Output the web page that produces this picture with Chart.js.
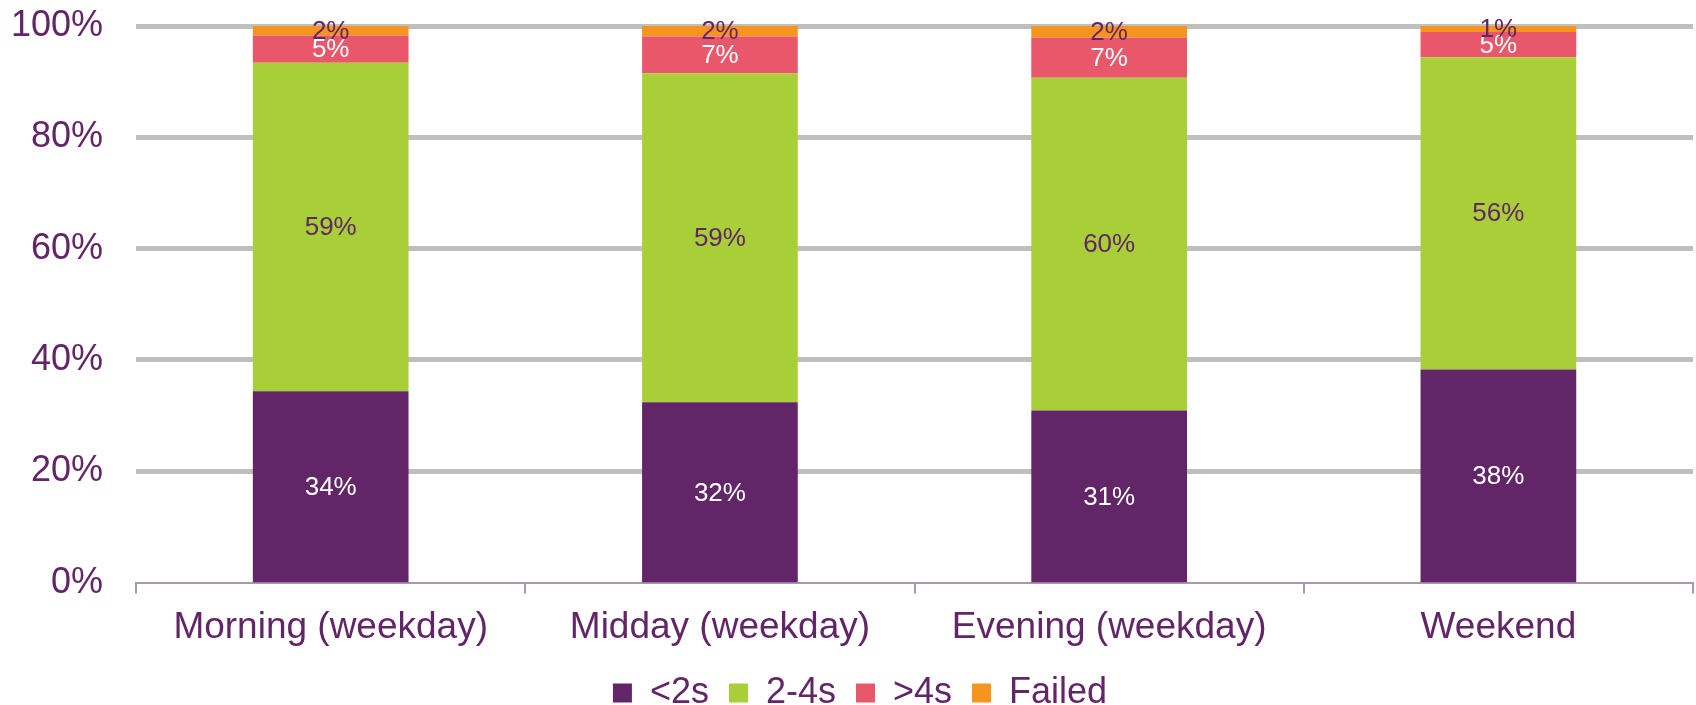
<!DOCTYPE html>
<html>
<head>
<meta charset="utf-8">
<script src="https://cdn.jsdelivr.net/npm/chart.js@4.4.1/dist/chart.umd.min.js"></script>
<style>
html,body{margin:0;padding:0;background:#fff;}
#c{display:block;}
</style>
</head>
<body>
<canvas id="c" width="1696" height="705"></canvas>
<script>
const categories = ['Morning (weekday)', 'Midday (weekday)', 'Evening (weekday)', 'Weekend'];
const seriesNames = ['<2s', '2-4s', '>4s', 'Failed'];
const under2s = [34.4, 32.4, 30.9, 38.3];
const from2to4s = [59.0, 59.1, 59.8, 56.1];
const over4s = [4.9, 6.6, 7.2, 4.5];
const failed = [1.7, 1.9, 2.1, 1.1];
const yTicks = [0, 20, 40, 60, 80, 100];

const PURPLE = '#622567';
const colors = ['#622567', '#A9CF38', '#E8586A', '#F7941E'];
const labelColors = ['#FFFFFF', PURPLE, '#FFFFFF', PURPLE];
const FONT = '"Liberation Sans", Arial, sans-serif';

const seriesValues = [under2s, from2to4s, over4s, failed];

const labelPlugin = {
  id: 'segLabels',
  afterLayout(chart) {
    if (chart.legend) { chart.legend.left += 8; chart.legend.right += 8; }
  },
  afterDatasetsDraw(chart) {
    const ctx = chart.ctx;
    ctx.save();
    ctx.font = '26px ' + FONT;
    ctx.textAlign = 'center';
    ctx.textBaseline = 'middle';
    chart.data.datasets.forEach((ds, di) => {
      const meta = chart.getDatasetMeta(di);
      meta.data.forEach((bar, i) => {
        const v = ds.data[i];
        const cy = (bar.y + bar.base) / 2;
        ctx.fillStyle = labelColors[di];
        ctx.fillText(Math.round(v) + '%', bar.x, cy + 1);
      });
    });
    ctx.restore();
  }
};

new Chart(document.getElementById('c'), {
  type: 'bar',
  data: {
    labels: categories,
    datasets: seriesNames.map((n, i) => ({
      label: n,
      data: seriesValues[i],
      backgroundColor: colors[i],
      borderWidth: 0,
      categoryPercentage: 0.4,
      barPercentage: 1.0
    }))
  },
  options: {
    responsive: false,
    animation: false,
    devicePixelRatio: 1,
    layout: { padding: { left: 11, right: 3, top: 0, bottom: -16 } },
    plugins: {
      tooltip: { enabled: false },
      legend: {
        position: 'bottom',
        labels: {
          color: PURPLE,
          font: { family: FONT, size: 36 },
          boxWidth: 19,
          boxHeight: 19,
          padding: 20
        }
      }
    },
    scales: {
      x: {
        stacked: true,
        afterFit(s) { s.paddingLeft = 0; s.paddingRight = 0; s.height -= 7; },
        grid: {
          offset: true,
          drawOnChartArea: false,
          drawTicks: true,
          tickLength: 11,
          color: '#A898AC',
          lineWidth: 2
        },
        border: { display: true, color: '#A898AC', width: 2 },
        ticks: {
          color: PURPLE,
          font: { family: FONT, size: 37 },
          padding: 12,
          maxRotation: 0
        }
      },
      y: {
        stacked: true,
        min: 0,
        max: 100,
        afterBuildTicks(axis) { axis.ticks = yTicks.map(v => ({ value: v })); },
        afterFit(s) { s.paddingTop = 26; s.paddingBottom = 0; s.width -= 33; },
        grid: {
          drawTicks: false,
          color: '#BFBFBF',
          lineWidth: c => (c.tick && c.tick.value === 0) ? 0 : 5
        },
        border: { display: false },
        ticks: {
          color: PURPLE,
          font: { family: FONT, size: 36 },
          padding: 33,
          callback: v => v + '%'
        }
      }
    }
  },
  plugins: [labelPlugin]
});
</script>
</body>
</html>
